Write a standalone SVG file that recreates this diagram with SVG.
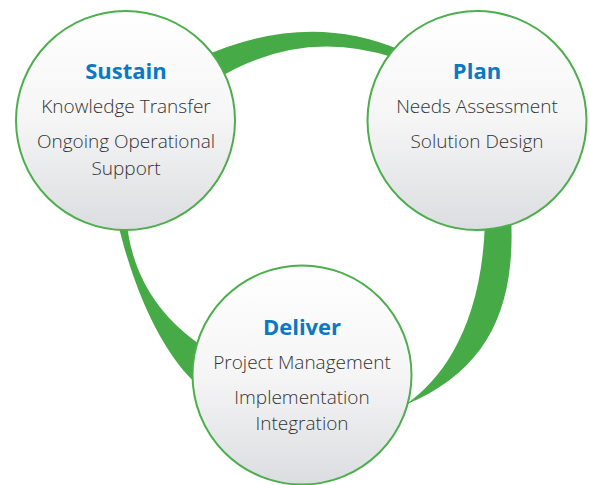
<svg xmlns="http://www.w3.org/2000/svg" width="589" height="485" viewBox="0 0 589 485">
<style>
.band{fill:#46aa46;stroke:none}
.node circle{fill:url(#g);stroke:#4cae4c;stroke-width:2}
.title{font-family:"Open Sans","Noto Sans",sans-serif;font-weight:bold;font-size:22px;fill:#0b78c3;text-anchor:middle}
.item{font-family:"Open Sans","Noto Sans",sans-serif;font-weight:300;font-size:19px;fill:#333333;text-anchor:middle}
</style>
<defs>
<linearGradient id="g" x1="0" y1="0" x2="0" y2="1">
<stop offset="0" stop-color="#ffffff"/>
<stop offset="0.5" stop-color="#f5f5f6"/>
<stop offset="1" stop-color="#dcdde0"/>
</linearGradient>
</defs>
<rect width="589" height="485" fill="#ffffff"/>
<g id="connectors">
<path class="band" d="M200 58 Q306 10 400 50 L395 58 Q301 27 215 80 Z"/>
<path class="band" d="M511 215 C516 305 490 370 405 405 C445 378 484 320 485 215 Z"/>
<path class="band" d="M126 215 C130 270 155 315 205 348 L198 385 C168 360 135 300 116 215 Z"/>
</g>
<g id="sustain" class="node">
<circle cx="125.5" cy="120.5" r="109.5"/>
<text class="title" x="126" y="79">Sustain</text>
<text class="item" x="126" y="113">Knowledge Transfer</text>
<text class="item" x="126" y="148">Ongoing Operational</text>
<text class="item" x="126" y="175">Support</text>
</g>
<g id="plan" class="node">
<circle cx="477" cy="120.5" r="109.5"/>
<text class="title" x="477" y="79">Plan</text>
<text class="item" x="477" y="113">Needs Assessment</text>
<text class="item" x="477" y="148">Solution Design</text>
</g>
<g id="deliver" class="node">
<circle cx="302" cy="375" r="109.5"/>
<text class="title" x="302" y="335">Deliver</text>
<text class="item" x="302" y="369">Project Management</text>
<text class="item" x="302" y="404">Implementation</text>
<text class="item" x="302" y="430">Integration</text>
</g>
</svg>
